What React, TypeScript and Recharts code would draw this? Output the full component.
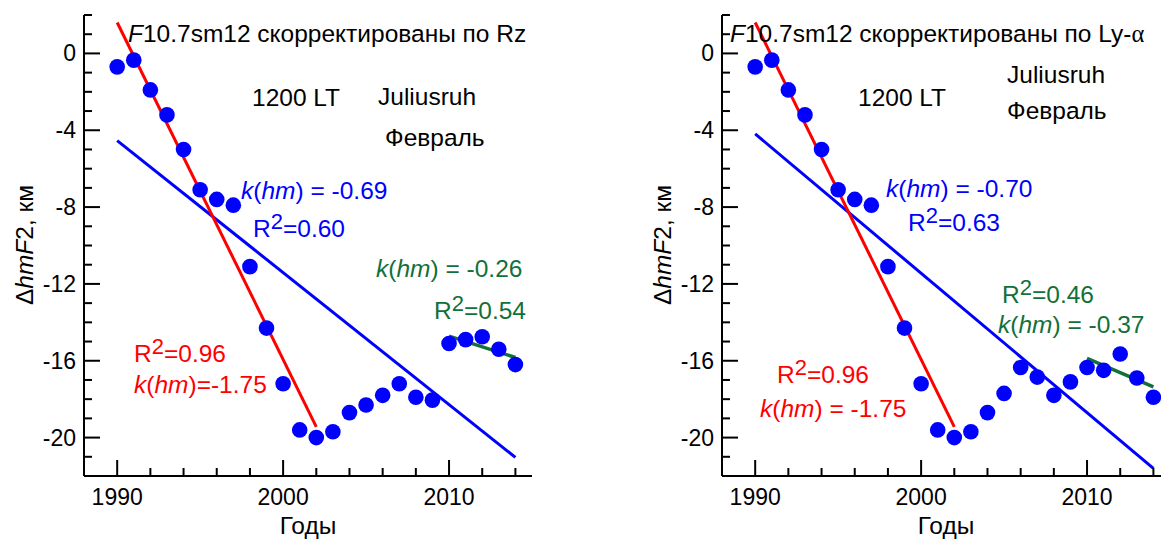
import React from "react";
import { ComposedChart, Scatter, Line, XAxis, YAxis } from "recharts";

// годы наблюдений
const years = [
  1990, 1991, 1992, 1993, 1994, 1995, 1996, 1997, 1998, 1999, 2000, 2001, 2002,
  2003, 2004, 2005, 2006, 2007, 2008, 2009, 2010, 2011, 2012, 2013, 2014,
];

// ΔhmF2, км (F10.7sm12 скорректированы по Rz)
const dhmRz = [
  -0.7, -0.35, -1.9, -3.2, -5.0, -7.1, -7.6, -7.9, -11.1, -14.3, -17.2, -19.6, -20.0,
  -19.7, -18.7, -18.3, -17.8, -17.2, -17.9, -18.05, -15.1, -14.9, -14.75, -15.4, -16.2,
];

// ΔhmF2, км (F10.7sm12 скорректированы по Ly-α)
const dhmLya = [
  -0.7, -0.35, -1.9, -3.2, -5.0, -7.1, -7.6, -7.9, -11.1, -14.3, -17.2, -19.6, -20.0,
  -19.7, -18.7, -17.7, -16.35, -16.85, -17.8, -17.1, -16.35, -16.5, -15.65, -16.9, -17.9,
];

// линии тренда (концы)
const redFitYears = [1990, 2002];
const blueFitYears = [1990, 2014];
const greenFitYears = [2010, 2014];
const redRz = [1.61, -19.44];
const blueRz = [-4.54, -21.03];
const greenRz = [-14.72, -15.83];
const redLya = [1.61, -19.44];
const blueLya = [-4.19, -21.6];
const greenLya = [-15.88, -17.36];

const xTicks = [1990, 1992, 1994, 1996, 1998, 2000, 2002, 2004, 2006, 2008, 2010, 2012, 2014];
const xLabels = [1990, 2000, 2010];
const yTicks = [
  2, 1, 0, -1, -2, -3, -4, -5, -6, -7, -8, -9, -10, -11, -12, -13, -14, -15, -16, -17,
  -18, -19, -20, -21, -22,
];
const yLabels = [0, -4, -8, -12, -16, -20];

const BLUE = "#0000FF";
const RED = "#FF0000";
const GREEN = "#12703A";
const FONT = '"Liberation Sans", Arial, sans-serif';
const FS = 24.5;
const TICK_FS = 23;

const toPoints = (xs: number[], ys: number[]) =>
  xs.map((year, i) => ({ year, value: ys[i] }));

const XTick = (props: any) => {
  const { x, y, payload } = props;
  const major = xLabels.includes(payload.value);
  return (
    <g>
      <line x1={x} x2={x} y1={y} y2={y - (major ? 16 : 8)} stroke="#000" strokeWidth={2} />
      {major && (
        <text x={x} y={y + 29} textAnchor="middle" fontSize={TICK_FS} fill="#000" fontFamily={FONT}>
          {payload.value}
        </text>
      )}
    </g>
  );
};

const YTickLeft = (props: any) => {
  const { x, y, payload } = props;
  const major = yLabels.includes(payload.value);
  return (
    <g>
      <line x1={x} x2={x + (major ? 16 : 8)} y1={y} y2={y} stroke="#000" strokeWidth={2} />
      {major && (
        <text x={x - 8} y={y + 8} textAnchor="end" fontSize={TICK_FS} fill="#000" fontFamily={FONT}>
          {payload.value}
        </text>
      )}
    </g>
  );
};

const YTickRight = (props: any) => {
  const { x, y, payload } = props;
  const major = yLabels.includes(payload.value);
  return <line x1={x} x2={x - (major ? 16 : 8)} y1={y} y2={y} stroke="#000" strokeWidth={2} />;
};

const Dot = (props: any) => <circle cx={props.cx} cy={props.cy} r={7.8} fill={BLUE} />;

const axisLine = { stroke: "#000", strokeWidth: 2 };

interface PanelProps {
  values: number[];
  red: number[];
  blue: number[];
  green: number[];
}

const Panel = ({ values, red, blue, green }: PanelProps) => (
  <ComposedChart width={600} height={539} margin={{ top: 15, right: 68, bottom: 0, left: 0 }}>
    <XAxis
      dataKey="year"
      type="number"
      domain={[1988, 2015]}
      ticks={xTicks}
      interval={0}
      allowDataOverflow
      height={63}
      tickSize={0}
      tickMargin={0}
      tickLine={false}
      axisLine={axisLine}
      tick={XTick}
    />
    <XAxis
      xAxisId="top"
      orientation="top"
      type="number"
      domain={[1988, 2015]}
      height={0}
      tick={false}
      tickLine={false}
      axisLine={axisLine}
    />
    <YAxis
      type="number"
      domain={[-22, 2]}
      ticks={yTicks}
      interval={0}
      allowDataOverflow
      width={84}
      tickSize={0}
      tickMargin={0}
      tickLine={false}
      axisLine={axisLine}
      tick={YTickLeft}
    />
    <YAxis
      yAxisId="right"
      orientation="right"
      type="number"
      domain={[-22, 2]}
      ticks={yTicks}
      interval={0}
      width={0}
      tickSize={0}
      tickMargin={0}
      tickLine={false}
      axisLine={axisLine}
      tick={YTickRight}
    />
    <Line
      data={toPoints(blueFitYears, blue)}
      dataKey="value"
      stroke={BLUE}
      strokeWidth={3}
      dot={false}
      type="linear"
      isAnimationActive={false}
    />
    <Line
      data={toPoints(redFitYears, red)}
      dataKey="value"
      stroke={RED}
      strokeWidth={3}
      dot={false}
      type="linear"
      isAnimationActive={false}
    />
    <Scatter data={toPoints(years, values)} dataKey="value" shape={Dot} isAnimationActive={false} />
    <Line
      data={toPoints(greenFitYears, green)}
      dataKey="value"
      stroke={GREEN}
      strokeWidth={3.5}
      dot={false}
      type="linear"
      isAnimationActive={false}
    />
  </ComposedChart>
);

const K = ({ x, y, fill, rest }: { x: number; y: number; fill: string; rest: string }) => (
  <text x={x} y={y} fill={fill} fontSize={FS} fontFamily={FONT}>
    <tspan fontStyle="italic">k</tspan>(<tspan fontStyle="italic">hm</tspan>){rest}
  </text>
);

const R2 = ({ x, y, fill, value }: { x: number; y: number; fill: string; value: string }) => (
  <text x={x} y={y} fill={fill} fontSize={FS} fontFamily={FONT}>
    R<tspan dy={-8} fontSize={22}>2</tspan>
    <tspan dy={8}>={value}</tspan>
  </text>
);

const Plain = ({ x, y, children }: { x: number; y: number; children: React.ReactNode }) => (
  <text x={x} y={y} fontSize={FS} fontFamily={FONT} fill="#000">
    {children}
  </text>
);

const YLabel = ({ x }: { x: number }) => (
  <text
    x={x}
    y={245}
    transform={`rotate(-90 ${x} 245)`}
    textAnchor="middle"
    fontSize={FS}
    fontFamily={FONT}
    fill="#000"
  >
    Δ<tspan fontStyle="italic">hmF</tspan>2, км
  </text>
);

const App = () => (
  <div
    style={{
      position: "absolute",
      left: 0,
      top: 0,
      width: 1161,
      height: 539,
      overflow: "hidden",
      background: "#fff",
    }}
  >
    <div style={{ position: "absolute", left: 0, top: 0 }}>
      <Panel values={dhmRz} red={redRz} blue={blueRz} green={greenRz} />
    </div>
    <div style={{ position: "absolute", left: 638, top: 0 }}>
      <Panel values={dhmLya} red={redLya} blue={blueLya} green={greenLya} />
    </div>
    <svg
      width={1161}
      height={539}
      style={{ position: "absolute", left: 0, top: 0, pointerEvents: "none" }}
    >
      {/* левая панель */}
      <Plain x={128} y={42}>
        <tspan fontStyle="italic">F</tspan>10.7sm12 скорректированы по Rz
      </Plain>
      <Plain x={252} y={106}>1200 LT</Plain>
      <Plain x={378} y={105}>Juliusruh</Plain>
      <Plain x={385} y={146}>Февраль</Plain>
      <K x={241} y={199} fill={BLUE} rest=" = -0.69" />
      <R2 x={253} y={237} fill={BLUE} value="0.60" />
      <K x={376} y={277} fill={GREEN} rest=" = -0.26" />
      <R2 x={434} y={319} fill={GREEN} value="0.54" />
      <R2 x={134} y={362} fill={RED} value="0.96" />
      <K x={134} y={393} fill={RED} rest="=-1.75" />
      <text x={308} y={534} textAnchor="middle" fontSize={FS} fontFamily={FONT} fill="#000">Годы</text>
      <YLabel x={33} />

      {/* правая панель */}
      <Plain x={730} y={42}>
        <tspan fontStyle="italic">F</tspan>10.7sm12 скорректированы по Ly-
        <tspan fontFamily='"Liberation Serif", serif'>α</tspan>
      </Plain>
      <Plain x={858} y={106}>1200 LT</Plain>
      <Plain x={1007} y={83}>Juliusruh</Plain>
      <Plain x={1007} y={119}>Февраль</Plain>
      <K x={886} y={197} fill={BLUE} rest=" = -0.70" />
      <R2 x={908} y={231} fill={BLUE} value="0.63" />
      <R2 x={1002} y={303} fill={GREEN} value="0.46" />
      <K x={998} y={333} fill={GREEN} rest=" = -0.37" />
      <R2 x={777} y={383} fill={RED} value="0.96" />
      <K x={760} y={417} fill={RED} rest=" = -1.75" />
      <text x={946} y={534} textAnchor="middle" fontSize={FS} fontFamily={FONT} fill="#000">Годы</text>
      <YLabel x={671} />
    </svg>
  </div>
);

export default App;
